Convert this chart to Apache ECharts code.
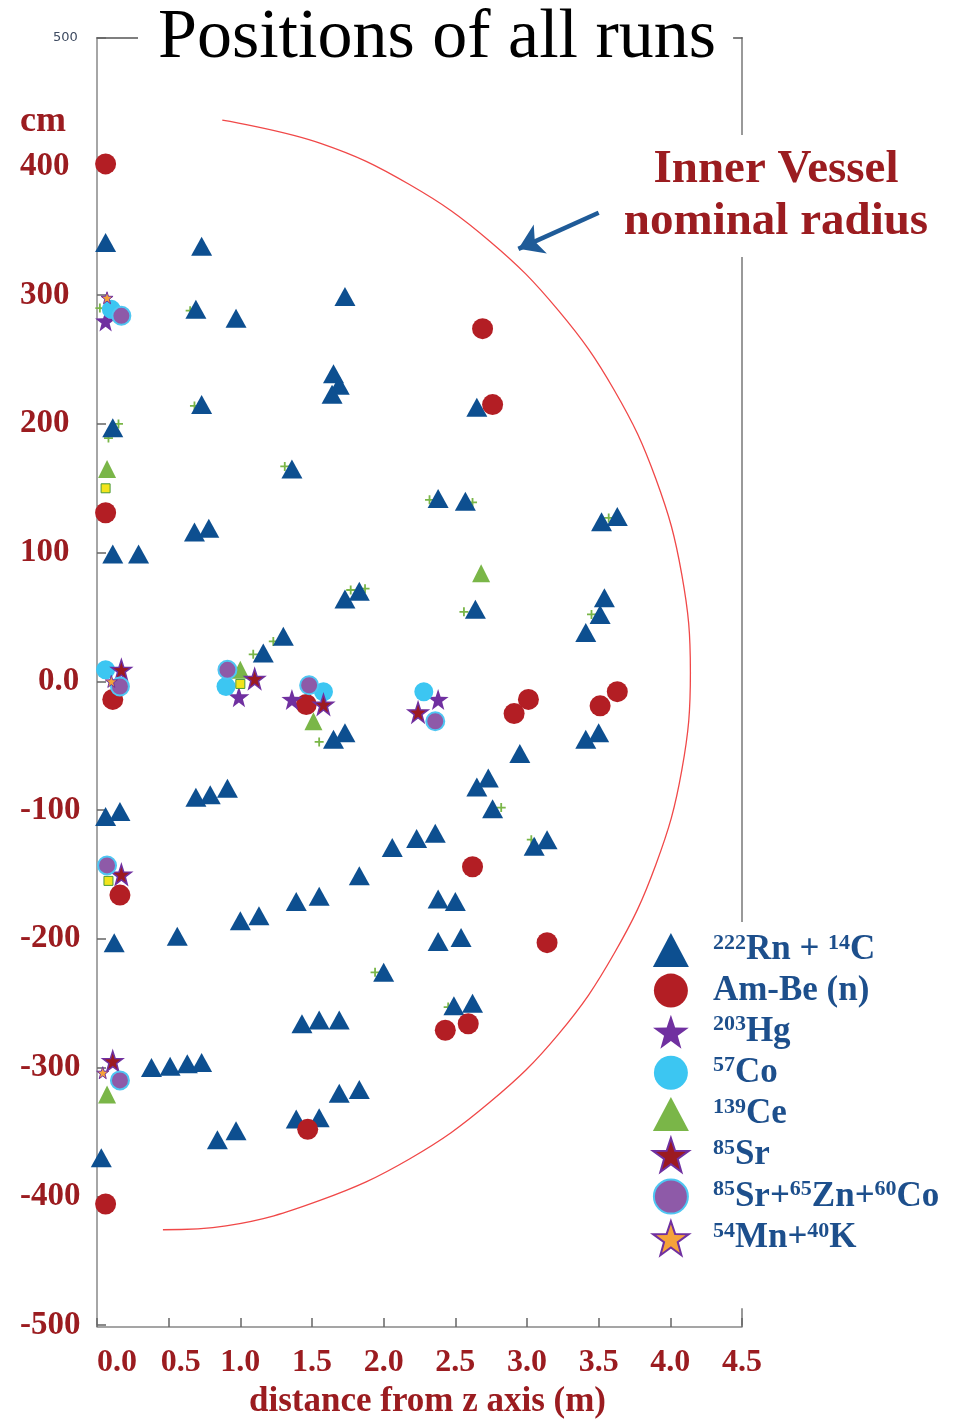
<!DOCTYPE html>
<html>
<head>
<meta charset="utf-8">
<script src="https://cdn.jsdelivr.net/npm/echarts@6/dist/echarts.min.js"></script>
<style>
  html, body { margin: 0; padding: 0; background: #fff; }
  #chart { width: 966px; height: 1422px; }
</style>
</head>
<body>
<div id="chart"></div>
<script>
// Source positions: [distance from z axis (m), z (cm)]
const rnC14 = [
  [0.06, 341], [0.73, 338], [0.69, 289], [0.97, 282], [1.73, 299],
  [1.65, 239], [1.69, 230], [1.64, 223], [0.73, 215], [0.11, 197],
  [2.65, 213], [1.36, 165], [2.38, 142], [2.57, 140], [0.68, 116],
  [0.78, 119], [0.11, 99], [0.29, 99], [3.52, 124], [3.63, 128],
  [1.73, 64], [1.83, 70], [2.64, 56], [3.54, 65], [3.51, 52],
  [3.41, 38], [1.30, 35], [1.16, 22], [1.65, -45], [1.73, -40],
  [3.41, -45], [3.50, -40], [2.95, -56], [2.65, -82], [2.73, -75],
  [2.76, -99], [0.06, -105], [0.16, -101], [0.69, -90], [0.79, -88],
  [0.91, -83], [2.06, -129], [2.23, -122], [2.36, -118], [3.05, -128],
  [3.14, -123], [1.83, -151], [1.39, -171], [1.55, -167], [2.38, -169],
  [2.50, -171], [1.00, -186], [1.13, -182], [0.12, -203], [0.56, -198],
  [2.38, -202], [2.54, -199], [2.00, -226], [2.49, -252], [2.62, -250],
  [1.43, -266], [1.55, -263], [1.69, -263], [0.38, -300], [0.51, -299],
  [0.63, -297], [0.73, -296], [1.69, -320], [1.83, -317], [1.39, -340],
  [1.55, -339], [0.84, -356], [0.97, -349], [0.03, -370]
];
// Small green crosses drawn next to many of the Rn/C runs
const c14Marks = [
  [2.32, 141], [2.62, 139], [1.77, 71], [1.87, 72], [2.56, 54],
  [3.45, 52], [3.57, 127], [1.55, -47], [0.02, 290], [0.65, 288],
  [0.15, 200], [0.08, 189], [1.09, 21], [1.23, 31], [1.31, 167],
  [0.68, 214], [1.94, -226], [3.03, -123], [2.82, -98], [2.45, -253]
];
const amBe = [
  [0.06, 402], [2.69, 274], [2.76, 215], [0.06, 131], [0.11, -14],
  [1.46, -18], [2.91, -25], [3.01, -14], [3.51, -19], [3.63, -8],
  [0.16, -166], [2.62, -144], [3.14, -203], [2.43, -271], [2.59, -266],
  [1.47, -348], [0.06, -406]
];
const hg203 = [[0.06, 280], [0.99, -12], [1.36, -14], [2.38, -14]];
const co57 = [[0.10, 289], [0.06, 9], [0.90, -4], [1.58, -8], [2.28, -8]];
const ce139 = [[0.07, 165], [1.00, 9], [1.51, -31], [2.68, 84], [0.07, -321]];
const sr85 = [[0.17, 9], [1.10, 2], [1.58, -18], [2.24, -24], [0.17, -150], [0.11, -295]];
const srZnCo = [[0.17, 284], [0.16, -4], [0.91, 9], [1.48, -3], [2.36, -31], [0.07, -143], [0.16, -310]];
const mnK = [[0.07, 298], [0.10, 0], [0.04, -304]];
const smallSq = [[0.06, 150], [1.00, -2], [0.08, -155]];

// Inner Vessel nominal radius outline: [m, cm]
const vesselArc = [
  [0.874, 436], [1.56, 418], [2.18, 386], [2.74, 342], [3.22, 288],
  [3.61, 226], [3.90, 157], [4.08, 83], [4.14, 7], [4.08, -69],
  [3.90, -142], [3.61, -211], [3.22, -274], [2.74, -327], [2.18, -371],
  [1.56, -403], [0.90, -423], [0.46, -426]
];

// Arrow pointing at the vessel outline: start and tip [m, cm]
const arrowFrom = [3.50, 364];
const arrowTo = [2.94, 336];

const xTicks = { min: 0, max: 4.5, step: 0.5 };
const yTicks = { min: -500, max: 500, step: 100 };

const RED = '#9b1c20';
const BLUE = '#1d4f8c';
const SERIF = '"Liberation Serif", "DejaVu Serif", serif';
const STAR = 'path://M50,0 L61.8,35.5 L100,36.2 L69.1,58.5 L79.4,95 L50,73.5 L20.6,95 L30.9,58.5 L0,36.2 L38.2,35.5 Z';
const CROSS = 'path://M4,0 H6 V4 H10 V6 H6 V10 H4 V6 H0 V4 H4 Z';

const legendRich = {
  b: { fontFamily: SERIF, fontWeight: 'bold', fontSize: 35, color: BLUE, lineHeight: 36 },
  s: { fontFamily: SERIF, fontWeight: 'bold', fontSize: 22, color: BLUE, lineHeight: 24, verticalAlign: 'top' }
};
const legendText = {
  'Rn222 + C14': '{s|222}{b|Rn + }{s|14}{b|C}',
  'Am-Be (n)': '{b|Am-Be (n)}',
  'Hg203': '{s|203}{b|Hg}',
  'Co57': '{s|57}{b|Co}',
  'Ce139': '{s|139}{b|Ce}',
  'Sr85': '{s|85}{b|Sr}',
  'Sr85+Zn65+Co60': '{s|85}{b|Sr+}{s|65}{b|Zn+}{s|60}{b|Co}',
  'Mn54+K40': '{s|54}{b|Mn+}{s|40}{b|K}'
};

const chart = echarts.init(document.getElementById('chart'), null, { renderer: 'canvas' });

chart.setOption({
  animation: false,
  backgroundColor: '#fff',
  title: {
    text: 'Positions of all runs',
    left: 138,
    top: 1,
    padding: [0, 17, 0, 20],
    backgroundColor: '#fff',
    textStyle: { fontFamily: SERIF, fontWeight: 'normal', fontSize: 70, color: '#000', lineHeight: 76 }
  },
  grid: { left: 97, right: 224, top: 37.75, bottom: 97, containLabel: false, outerBoundsMode: 'none' },
  xAxis: [{
    type: 'value',
    min: xTicks.min, max: xTicks.max, interval: xTicks.step,
    offset: 2,
    name: 'distance from z axis (m)',
    nameLocation: 'middle',
    nameGap: 57,
    nameTextStyle: { fontFamily: SERIF, fontWeight: 'bold', fontSize: 35, color: RED, padding: [0, 0, 0, 16] },
    axisLine: { onZero: false, lineStyle: { color: '#888', width: 1.5 } },
    axisTick: { inside: true, length: 9, lineStyle: { color: '#666', width: 1.5 } },
    splitLine: { show: false },
    axisLabel: {
      margin: 20,
      formatter: v => {
        const t = v.toFixed(1);
        if (v === 0) return '{z|' + t + '}';
        if (v === 0.5) return '{h|' + t + '}';
        return '{n|' + t + '}';
      },
      rich: {
        n: { fontFamily: SERIF, fontWeight: 'bold', fontSize: 32, color: RED },
        z: { fontFamily: SERIF, fontWeight: 'bold', fontSize: 32, color: RED, padding: [0, 0, 0, 40] },
        h: { fontFamily: SERIF, fontWeight: 'bold', fontSize: 32, color: RED, padding: [0, 0, 0, 24] }
      }
    }
  }, {
    type: 'value', position: 'top',
    min: xTicks.min, max: xTicks.max, interval: xTicks.step,
    axisLine: { show: true, onZero: false, lineStyle: { color: '#555', width: 1.5 } },
    axisTick: { show: false }, axisLabel: { show: false }, splitLine: { show: false }
  }],
  yAxis: [{
    type: 'value',
    min: yTicks.min, max: yTicks.max, interval: yTicks.step,
    axisLine: { onZero: false, lineStyle: { color: '#888', width: 1.5 } },
    axisTick: { inside: true, length: 9, lineStyle: { color: '#666', width: 1.5 } },
    splitLine: { show: false },
    axisLabel: {
      margin: 77,
      align: 'left',
      formatter: v => {
        if (v === 500) return '{s|500}';
        if (v === 0) return '{z|0.0}';
        return '{n|' + v + '}';
      },
      rich: {
        n: { fontFamily: SERIF, fontWeight: 'bold', fontSize: 33, color: RED },
        z: { fontFamily: SERIF, fontWeight: 'bold', fontSize: 33, color: RED, padding: [0, 0, 0, 18] },
        s: { fontFamily: '"DejaVu Sans", sans-serif', fontSize: 13, color: '#3d4a60', padding: [0, 0, 0, 33] }
      }
    }
  }, {
    type: 'value', position: 'right',
    min: yTicks.min, max: yTicks.max, interval: yTicks.step,
    axisLine: { show: true, onZero: false, lineStyle: { color: '#777', width: 1.5 } },
    axisTick: { show: false }, axisLabel: { show: false }, splitLine: { show: false }
  }],
  legend: {
    orient: 'vertical',
    left: 642,
    top: 922,
    padding: [10, 10, 52, 10],
    backgroundColor: '#fff',
    itemWidth: 36,
    itemHeight: 34,
    itemGap: 5.6,
    data: ['Rn222 + C14', 'Am-Be (n)', 'Hg203', 'Co57', 'Ce139', 'Sr85', 'Sr85+Zn65+Co60', 'Mn54+K40'],
    formatter: name => legendText[name],
    textStyle: { rich: legendRich, padding: [0, 0, 0, 19] }
  },
  graphic: [{
    type: 'text',
    x: 20,
    y: 122,
    z: 100,
    style: { text: 'cm', font: 'bold 36px ' + SERIF, fill: RED, textAlign: 'left', textVerticalAlign: 'middle' }
  }, {
    type: 'text',
    x: 776,
    y: 135,
    z: 100,
    style: {
      text: 'Inner Vessel\nnominal radius',
      font: 'bold 47px ' + SERIF,
      lineHeight: 52,
      fill: RED,
      textAlign: 'center',
      backgroundColor: '#fff',
      padding: [9, 6, 9, 6]
    }
  }],
  series: [{
    name: 'vessel',
    type: 'line',
    data: vesselArc,
    smooth: 0.4,
    showSymbol: false,
    silent: true,
    lineStyle: { color: '#f04848', width: 1.3 },
    markLine: {
      silent: true,
      symbol: ['none', 'arrow'],
      symbolSize: [24, 24],
      label: { show: false },
      lineStyle: { color: '#1f5b98', width: 4.5, type: 'solid' },
      data: [[{ coord: arrowFrom }, { coord: arrowTo }]]
    }
  }, {
    name: 'C14 marks', type: 'scatter', data: c14Marks,
    symbol: CROSS, symbolSize: 9,
    itemStyle: { color: '#7ab648', opacity: 1 }
  }, {
    name: 'Rn222 + C14', type: 'scatter', data: rnC14,
    symbol: 'triangle', symbolSize: [21, 19],
    itemStyle: { color: '#0d4f90', opacity: 1 }
  }, {
    name: 'Am-Be (n)', type: 'scatter', data: amBe,
    symbol: 'circle', symbolSize: 21,
    itemStyle: { color: '#b31e24', opacity: 1 }
  }, {
    name: 'Hg203', type: 'scatter', data: hg203,
    symbol: STAR, symbolSize: 21,
    itemStyle: { color: '#7030a0', opacity: 1 }
  }, {
    name: 'Co57', type: 'scatter', data: co57,
    symbol: 'circle', symbolSize: 19,
    itemStyle: { color: '#3cc6f2', opacity: 1 }
  }, {
    name: 'Ce139', type: 'scatter', data: ce139,
    symbol: 'triangle', symbolSize: [18, 18],
    itemStyle: { color: '#7ab648', opacity: 1 }
  }, {
    name: 'Sr85', type: 'scatter', data: sr85,
    symbol: STAR, symbolSize: 20,
    itemStyle: { color: '#9c1a20', borderColor: '#7030a0', borderWidth: 1.5, opacity: 1 }
  }, {
    name: 'Sr85+Zn65+Co60', type: 'scatter', data: srZnCo,
    symbol: 'circle', symbolSize: 18,
    itemStyle: { color: '#8e5aa8', borderColor: '#4fc6f2', borderWidth: 2, opacity: 1 }
  }, {
    name: 'Mn54+K40', type: 'scatter', data: mnK,
    symbol: STAR, symbolSize: 12,
    itemStyle: { color: '#f5a33a', borderColor: '#7030a0', borderWidth: 1, opacity: 1 }
  }, {
    name: 'other', type: 'scatter', data: smallSq,
    symbol: 'rect', symbolSize: 9,
    itemStyle: { color: '#f2e41c', borderColor: '#4a9a3a', borderWidth: 1, opacity: 1 }
  }]
});
</script>
</body>
</html>
